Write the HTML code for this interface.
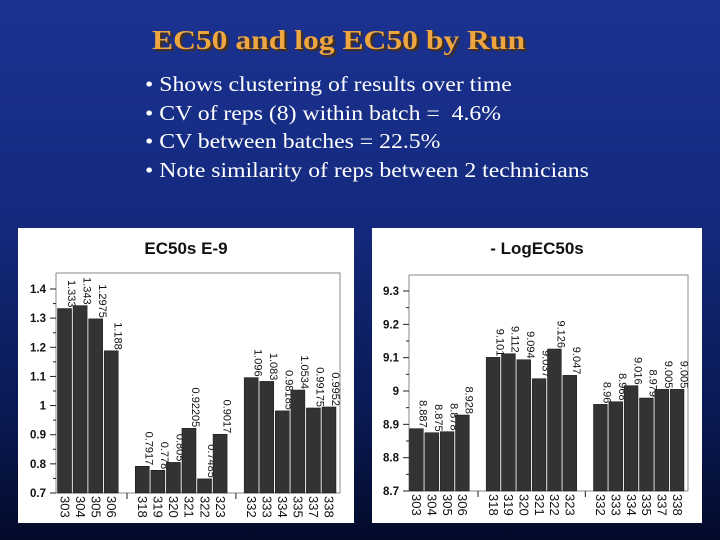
<!DOCTYPE html>
<html><head><meta charset="utf-8"><style>
html,body{margin:0;padding:0;}
body{width:720px;height:540px;overflow:hidden;background:linear-gradient(180deg,#1b3291 0%,#142a7e 40%,#0a1a55 75%,#030a2a 100%);position:relative;font-family:"Liberation Serif",serif;}
#title{position:absolute;left:152px;top:25px;font-size:27px;font-weight:bold;color:#eea640;text-shadow:2px 2px 1px #4a3010;white-space:nowrap;transform:scaleX(1.17);transform-origin:0 0;}
.b{position:absolute;left:145px;font-size:21px;color:#fff;white-space:nowrap;transform:scaleX(1.13);transform-origin:0 0;}
svg{position:absolute;left:0;top:0;}
</style></head><body>
<div id="title">EC50 and log EC50 by Run</div>
<div class="b" style="top:72px">• Shows clustering of results over time</div>
<div class="b" style="top:101px">• CV of reps (8) within batch =&nbsp; 4.6%</div>
<div class="b" style="top:129px">• CV between batches = 22.5%</div>
<div class="b" style="top:158px">• Note similarity of reps between 2 technicians</div>
<svg id="svg" width="720" height="540"></svg>
<script>
const categories=["303","304","305","306",null,"318","319","320","321","322","323",null,"332","333","334","335","337","338"];
const ec50Values=[1.333,1.343,1.2975,1.188,null,0.7917,0.778,0.805,0.92205,0.7485,0.9017,null,1.096,1.083,0.98185,1.0534,0.99175,0.9952];
const ec50Labels=["1.333","1.343","1.2975","1.188",null,"0.7917","0.778","0.805","0.92205","0.7485","0.9017",null,"1.096","1.083","0.98185","1.0534","0.99175","0.9952"];
const ec50Ticks=[0.7,0.8,0.9,1.0,1.1,1.2,1.3,1.4];
const ec50TickLabels=["0.7","0.8","0.9","1","1.1","1.2","1.3","1.4"];
const logValues=[8.887,8.875,8.878,8.928,null,9.101,9.112,9.094,9.037,9.126,9.047,null,8.96,8.968,9.016,8.979,9.005,9.005];
const logLabels=["8.887","8.875","8.878","8.928",null,"9.101","9.112","9.094","9.037","9.126","9.047",null,"8.96","8.968","9.016","8.979","9.005","9.005"];
const logTicks=[8.7,8.8,8.9,9.0,9.1,9.2,9.3];
const logTickLabels=["8.7","8.8","8.9","9","9.1","9.2","9.3"];
const NS="http://www.w3.org/2000/svg";
const svg=document.getElementById('svg');
function mk(t,a,p){const e=document.createElementNS(NS,t);for(const k in a)e.setAttribute(k,a[k]);(p||svg).appendChild(e);return e;}
function chart(o){
  const g=mk('g',{});
  
  
  const bg=mk('rect',{x:o.px,y:o.py,width:o.pw,height:o.ph,fill:'#fff'},g);
  
  
  const t=mk('text',{x:o.px+o.pw/2,y:o.py+26,'text-anchor':'middle','font-family':'Liberation Sans,sans-serif','font-size':17,'font-weight':'bold',fill:'#111'},g);
  t.textContent=o.title;
  
  
  const y=v=>o.y0-(v-o.vmin)/(o.vmax-o.vmin)*(o.y0-o.y1);
  const n=categories.length, slot=(o.bx1-o.bx0)/n;
  const fr=mk('path',{d:`M${o.l} ${o.top}H${o.r}V${o.y0}M${o.l} ${o.top}V${o.y0}H${o.r}`,stroke:'#888',fill:'none','stroke-width':1},g);
  
  
  o.ticks.forEach((v,i)=>{
    const yy=y(v);
    mk('line',{x1:o.l-6,x2:o.l,y1:yy,y2:yy,stroke:'#222'},g);
    if(i<o.ticks.length-1){const ym=y(v+(o.ticks[1]-o.ticks[0])/2);mk('line',{x1:o.l-3,x2:o.l,y1:ym,y2:ym,stroke:'#222'},g);}
    const tl=mk('text',{x:o.l-10,y:yy+4,'text-anchor':'end','font-family':'Liberation Sans,sans-serif','font-size':11.5,'font-weight':'bold',fill:'#111'},g);
    tl.textContent=o.tickLabels[i];
    
    
  });
  categories.forEach((c,i)=>{
    const x=o.bx0+i*slot;
    if(c===null){mk('line',{x1:x+slot/2,x2:x+slot/2,y1:o.y0,y2:o.y0+6,stroke:'#222'},g);return;}
    const v=o.values[i];
    const r=mk('rect',{x:x+0.5,y:y(v),width:slot-1.5,height:o.y0-y(v),fill:'#333',stroke:'#111','stroke-width':0.5},g);
    
    
    const cx=x+slot/2;
    const vl=mk('text',{transform:`translate(${cx+3},${y(v)-1}) rotate(90)`,'text-anchor':'end','font-family':'Liberation Sans,sans-serif','font-size':11,fill:'#111'},g);
    vl.textContent=o.labels[i];
    
    
    const cl=mk('text',{transform:`translate(${cx-4.5},${o.y0+3}) rotate(90)`,'font-family':'Liberation Sans,sans-serif','font-size':13,fill:'#111'},g);
    cl.textContent=c;
    
    
  });
}
chart({name:'ec50-chart',title:'EC50s E-9',px:18,py:228,pw:336,ph:295,l:56,r:340,top:273,y0:493,y1:289,vmin:0.7,vmax:1.4,bx0:57,bx1:337,values:ec50Values,labels:ec50Labels,ticks:ec50Ticks,tickLabels:ec50TickLabels});
chart({name:'log-ec50-chart',title:'- LogEC50s',px:372,py:228,pw:330,ph:295,l:409,r:688,top:275,y0:491,y1:291,vmin:8.7,vmax:9.3,bx0:409,bx1:685,values:logValues,labels:logLabels,ticks:logTicks,tickLabels:logTickLabels});
</script>
</body></html>
